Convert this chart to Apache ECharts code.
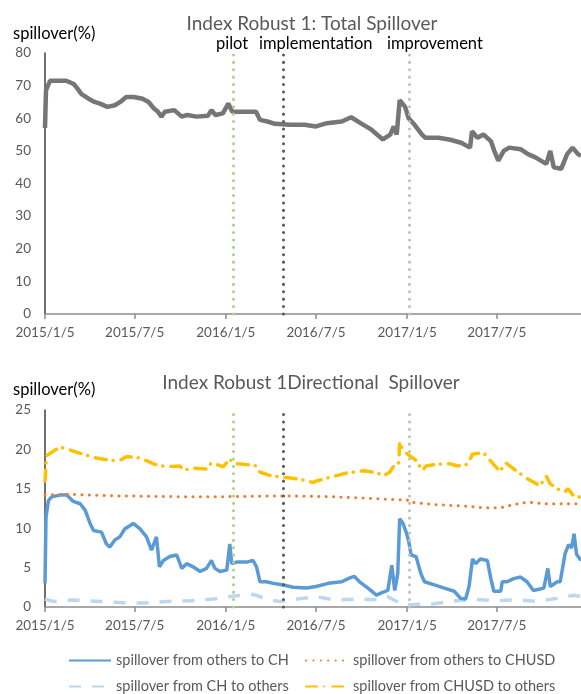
<!DOCTYPE html>
<html>
<head>
<meta charset="utf-8">
<script src="https://cdn.jsdelivr.net/npm/echarts@6/dist/echarts.min.js"></script>
<style>
html,body{margin:0;padding:0;background:#fff;}
#main{width:581px;height:694px;}
</style>
</head>
<body>
<div id="main"></div>
<script>
// ---------- data ----------
var tickDates = ['2015-01-05','2015-07-05','2016-01-05','2016-07-05','2017-01-05','2017-07-05'];
var axisStart = '2015-01-05';
var axisEnd = '2017-12-22';
var eventNames = ['pilot','implementation','improvement'];
var eventDates = ['2016-01-21','2016-04-29','2017-01-10'];

var totalSpill = [
['2015-01-05',57],['2015-01-07',68.5],['2015-01-15',71.5],['2015-02-17',71.5],['2015-03-04',70.5],
['2015-03-12',69],['2015-03-19',67.5],['2015-04-03',66],['2015-04-15',65],['2015-04-26',64.5],
['2015-05-11',63.5],['2015-05-26',64],['2015-06-06',65],['2015-06-18',66.5],['2015-07-03',66.5],
['2015-07-21',66],['2015-08-02',65],['2015-08-13',63],['2015-08-21',62],['2015-08-28',60.5],
['2015-09-04',62],['2015-09-23',62.5],['2015-10-08',60.5],['2015-10-19',61],['2015-11-07',60.5],
['2015-11-30',60.8],['2015-12-07',62.5],['2015-12-15',61],['2015-12-30',61.5],['2016-01-10',64.5],
['2016-01-18',62],['2016-02-05',62],['2016-03-06',62],['2016-03-14',59.5],['2016-03-29',59],
['2016-04-13',58.3],['2016-05-13',58],['2016-06-12',58],['2016-07-05',57.5],['2016-07-27',58.5],
['2016-08-26',59],['2016-09-14',60.3],['2016-10-03',58.5],['2016-10-25',56.5],['2016-11-17',53.5],
['2016-12-02',55],['2016-12-09',57.5],['2016-12-15',55],['2016-12-21',65.5],['2017-01-01',63.5],
['2017-01-08',60],['2017-01-20',58],['2017-02-04',55],['2017-02-11',54],['2017-03-09',54],
['2017-03-31',53.5],['2017-04-24',52.5],['2017-05-12',51],['2017-05-16',56],['2017-05-27',54],
['2017-06-08',55],['2017-06-23',53],['2017-06-30',50],['2017-07-08',47],['2017-07-19',50],
['2017-07-30',51],['2017-08-22',50.5],['2017-09-06',49],['2017-09-21',48],['2017-10-13',46],
['2017-10-21',50],['2017-10-28',45],['2017-11-12',44.5],['2017-11-24',49],['2017-12-05',51],
['2017-12-16',49],['2017-12-22',48.5]
];

var othersToCH = [
['2015-01-05',3.0],['2015-01-07',11.4],['2015-01-12',13.5],['2015-01-19',14.0],['2015-02-04',14.2],
['2015-02-18',14.2],['2015-03-03',13.4],['2015-03-17',13.1],['2015-03-27',12.3],['2015-04-06',10.6],
['2015-04-13',9.7],['2015-04-29',9.5],['2015-05-09',8.0],['2015-05-16',7.6],['2015-05-26',8.5],
['2015-06-05',8.9],['2015-06-15',9.9],['2015-07-02',10.6],['2015-07-16',9.9],['2015-07-29',8.9],
['2015-08-08',7.2],['2015-08-18',8.9],['2015-08-24',5.1],['2015-09-01',5.9],['2015-09-14',6.4],
['2015-09-28',6.6],['2015-10-08',4.9],['2015-10-18',5.5],['2015-10-31',5.1],['2015-11-14',4.5],
['2015-11-27',4.9],['2015-12-07',5.9],['2015-12-14',4.9],['2015-12-24',4.5],['2016-01-07',4.7],
['2016-01-13',8.0],['2016-01-17',5.5],['2016-01-27',5.7],['2016-02-16',5.7],['2016-02-29',5.9],
['2016-03-07',5.1],['2016-03-14',3.2],['2016-03-27',3.2],['2016-04-10',3.0],['2016-04-30',2.8],
['2016-05-20',2.5],['2016-06-16',2.4],['2016-07-05',2.6],['2016-07-30',3.0],['2016-08-26',3.2],
['2016-09-08',3.6],['2016-09-20',3.9],['2016-10-01',3.2],['2016-10-18',2.4],['2016-11-04',1.5],
['2016-11-14',1.8],['2016-11-27',2.1],['2016-12-05',5.3],['2016-12-11',2.1],['2016-12-17',4.2],
['2016-12-21',11.2],['2016-12-27',10.7],['2017-01-03',9.5],['2017-01-08',8.4],['2017-01-13',6.6],
['2017-01-23',6.4],['2017-02-02',4.2],['2017-02-09',3.2],['2017-03-01',2.8],['2017-03-21',2.4],
['2017-04-10',2.0],['2017-04-23',1.1],['2017-05-03',1.0],['2017-05-10',2.6],['2017-05-17',6.1],
['2017-05-23',5.5],['2017-06-02',6.1],['2017-06-16',5.9],['2017-06-23',3.6],['2017-06-29',2.0],
['2017-07-13',2.0],['2017-07-16',3.2],['2017-07-26',3.2],['2017-08-08',3.6],['2017-08-22',3.8],
['2017-09-04',3.2],['2017-09-17',2.1],['2017-10-08',2.4],['2017-10-16',4.9],['2017-10-21',2.6],
['2017-11-04',3.2],['2017-11-10',3.2],['2017-11-20',6.8],['2017-11-27',7.9],['2017-12-03',7.5],
['2017-12-08',9.3],['2017-12-13',6.7],['2017-12-22',5.9]
];

var othersToCHUSD = [
['2015-01-05',14.2],['2015-02-20',14.3],['2015-06-01',14.1],['2015-10-01',14.0],['2016-01-05',14.0],
['2016-05-01',14.1],['2016-08-01',14.0],['2016-10-18',13.8],['2016-12-20',13.6],['2017-01-05',13.6],
['2017-01-10',13.3],['2017-03-01',13.0],['2017-05-01',12.8],['2017-06-10',12.6],['2017-07-13',12.6],
['2017-08-08',13.0],['2017-09-04',13.3],['2017-10-10',13.1],['2017-12-22',13.1]
];

var chToOthers = [
['2015-01-05',1.0],['2015-01-22',0.7],['2015-03-03',0.9],['2015-04-26',0.7],['2015-06-12',0.55],
['2015-07-22',0.5],['2015-09-08',0.7],['2015-10-25',0.8],['2015-12-11',1.0],['2016-01-20',1.4],
['2016-02-29',1.6],['2016-04-03',0.9],['2016-04-23',0.7],['2016-05-27',1.0],['2016-07-06',1.3],
['2016-08-12',0.9],['2016-10-05',1.0],['2016-11-07',0.9],['2016-11-27',1.3],['2016-12-24',0.4],
['2017-01-13',0.3],['2017-03-01',0.4],['2017-04-03',0.7],['2017-05-13',1.0],['2017-06-29',0.8],
['2017-08-15',0.9],['2017-09-24',0.7],['2017-11-04',1.1],['2017-12-07',1.5],['2017-12-22',1.3]
];

var chusdToOthers = [
['2015-01-05',16.0],['2015-01-06',17.0],['2015-01-08',19.2],['2015-02-04',20.3],['2015-02-21',20.0],
['2015-03-17',19.5],['2015-04-19',18.9],['2015-05-16',18.6],['2015-06-05',18.6],['2015-06-19',19.1],
['2015-07-16',18.9],['2015-08-15',18.1],['2015-09-08',17.8],['2015-10-04',17.9],['2015-10-11',17.4],
['2015-11-04',17.6],['2015-11-27',17.5],['2015-12-07',18.3],['2015-12-31',17.8],['2016-01-13',18.8],
['2016-01-20',18.2],['2016-02-13',18.1],['2016-03-07',17.9],['2016-03-14',17.1],['2016-04-03',16.7],
['2016-04-23',16.5],['2016-05-10',16.4],['2016-06-03',16.2],['2016-06-30',15.8],['2016-07-06',16.0],
['2016-08-05',16.5],['2016-09-05',17.0],['2016-10-10',17.3],['2016-11-07',17.0],['2016-11-17',16.6],
['2016-12-01',17.1],['2016-12-11',18.1],['2016-12-19',18.3],['2016-12-21',20.9],['2016-12-27',20.0],
['2017-01-06',19.4],['2017-01-23',18.6],['2017-02-05',17.3],['2017-02-12',17.9],['2017-03-04',18.1],
['2017-03-31',18.2],['2017-04-17',17.9],['2017-05-07',18.1],['2017-05-17',19.4],['2017-06-08',19.6],
['2017-06-23',18.5],['2017-07-11',17.2],['2017-07-23',18.3],['2017-08-15',17.2],['2017-09-04',16.3],
['2017-09-30',15.4],['2017-10-13',16.6],['2017-10-20',15.7],['2017-11-03',15.0],['2017-11-19',14.6],
['2017-11-26',15.0],['2017-12-07',14.1],['2017-12-22',13.9]
];

var seriesNames = ['spillover from others to CH','spillover from others to CHUSD','spillover from CH to others','spillover from CHUSD to others'];

// ---------- helpers ----------
function ts(s){ var p=s.split('-'); return new Date(+p[0], +p[1]-1, +p[2]).getTime(); }
function conv(arr){ return arr.map(function(d){ return [ts(d[0]), d[1]]; }); }
function fmt(v){ var d=new Date(v); return d.getFullYear()+'/'+(d.getMonth()+1)+'/'+d.getDate(); }

var FONT = 'Lato';
var GRAY = '#595959';
var eventColors = ['#a9d18e','#595959','#bfbfbf'];

function xAxisCfg(gi){
  return {
    type:'value', gridIndex:gi, min:ts(axisStart), max:ts(axisEnd),
    axisLine:{show:true, onZero:false, lineStyle:{color:'#8c8c8c', width:1.5}},
    axisTick:{show:true, customValues: tickDates.map(ts), length:5, lineStyle:{color:'#8c8c8c', width:1.5}},
    axisLabel:{customValues: tickDates.map(ts), formatter: fmt, color:GRAY, fontFamily:FONT, fontSize:13.5, margin:12, hideOverlap:false},
    splitLine:{show:false}
  };
}
function yAxisCfg(gi, max, interval){
  return {
    type:'value', gridIndex:gi, min:0, max:max, interval:interval,
    axisLine:{show:true, lineStyle:{color:'#404040', width:1.5}},
    axisTick:{show:false},
    axisLabel:{color:GRAY, fontFamily:FONT, fontSize:13.5, margin:14},
    splitLine:{show:false}
  };
}
function eventMarks(){
  return {
    silent:true, symbol:'none', animation:false,
    label:{show:false},
    data: eventDates.map(function(d,i){
      return {xAxis: ts(d), lineStyle:{color:eventColors[i], type:[0.1,7.3], width:3, cap:'round'}};
    })
  };
}
function legendCfg(name, left, top){
  return {data:[name], left:left, top:top, padding:0, itemWidth:42, itemHeight:14, itemGap:10,
    itemStyle:{opacity:0},
    textStyle:{color:GRAY, fontSize:14.5, fontFamily:FONT, padding:[0,0,0,0]}};
}

var chart = echarts.init(document.getElementById('main'));
chart.setOption({
  animation:false,
  backgroundColor:'#fff',
  textStyle:{fontFamily:FONT},
  title:[
    {text:'Index Robust 1: Total Spillover', left:307, top:9, textAlign:'center', textStyle:{color:GRAY, fontSize:19, fontWeight:'normal', fontFamily:FONT}},
    {text:'spillover(%)', left:8, top:20, textStyle:{color:'#000', fontSize:16.5, fontWeight:'normal', fontFamily:FONT}},
    {text:'Index Robust 1Directional  Spillover', left:306, top:368, textAlign:'center', textStyle:{color:GRAY, fontSize:19, fontWeight:'normal', fontFamily:FONT}},
    {text:'spillover(%)', left:8, top:376, textStyle:{color:'#000', fontSize:16.5, fontWeight:'normal', fontFamily:FONT}}
  ],
  graphic:[
    {type:'text', left:216, top:35, style:{text:eventNames[0], fill:'#000', font:'16.5px '+FONT}},
    {type:'text', left:259, top:35, style:{text:eventNames[1], fill:'#000', font:'16.5px '+FONT}},
    {type:'text', left:387, top:35, style:{text:eventNames[2], fill:'#000', font:'16.5px '+FONT}}
  ],
  grid:[
    {left:45, right:0, top:53, height:261},
    {left:45, right:0, top:410, height:197}
  ],
  xAxis:[xAxisCfg(0), xAxisCfg(1)],
  yAxis:[yAxisCfg(0,80,10), yAxisCfg(1,25,5)],
  legend:[
    legendCfg(seriesNames[0], 68, 653),
    legendCfg(seriesNames[1], 305, 653),
    legendCfg(seriesNames[2], 68, 679),
    legendCfg(seriesNames[3], 305, 679)
  ],
  series:[
    {name:'Total', type:'line', xAxisIndex:0, yAxisIndex:0, data:conv(totalSpill), symbol:'none',
     lineStyle:{color:'#767676', width:4.5}, itemStyle:{color:'#767676'}, markLine:eventMarks(), z:3},
    {name:seriesNames[0], type:'line', xAxisIndex:1, yAxisIndex:1, data:conv(othersToCH), symbol:'none',
     lineStyle:{color:'#5b9bd5', width:3.5}, itemStyle:{color:'#5b9bd5'}, markLine:eventMarks(), z:3},
    {name:seriesNames[1], type:'line', xAxisIndex:1, yAxisIndex:1, data:conv(othersToCHUSD), symbol:'none',
     lineStyle:{color:'#ed7d31', width:3, type:[0.1,7.3], cap:'round'}, itemStyle:{color:'#ed7d31'}, z:3},
    {name:seriesNames[2], type:'line', xAxisIndex:1, yAxisIndex:1, data:conv(chToOthers), symbol:'none',
     lineStyle:{color:'#bdd7ee', width:3.5, type:[12,11]}, itemStyle:{color:'#bdd7ee'}, z:2},
    {name:seriesNames[3], type:'line', xAxisIndex:1, yAxisIndex:1, data:conv(chusdToOthers), symbol:'none',
     lineStyle:{color:'#ffc000', width:3.5, type:[11,7,0.1,8], cap:'round'}, itemStyle:{color:'#ffc000'}, z:3}
  ]
});
</script>
</body>
</html>
